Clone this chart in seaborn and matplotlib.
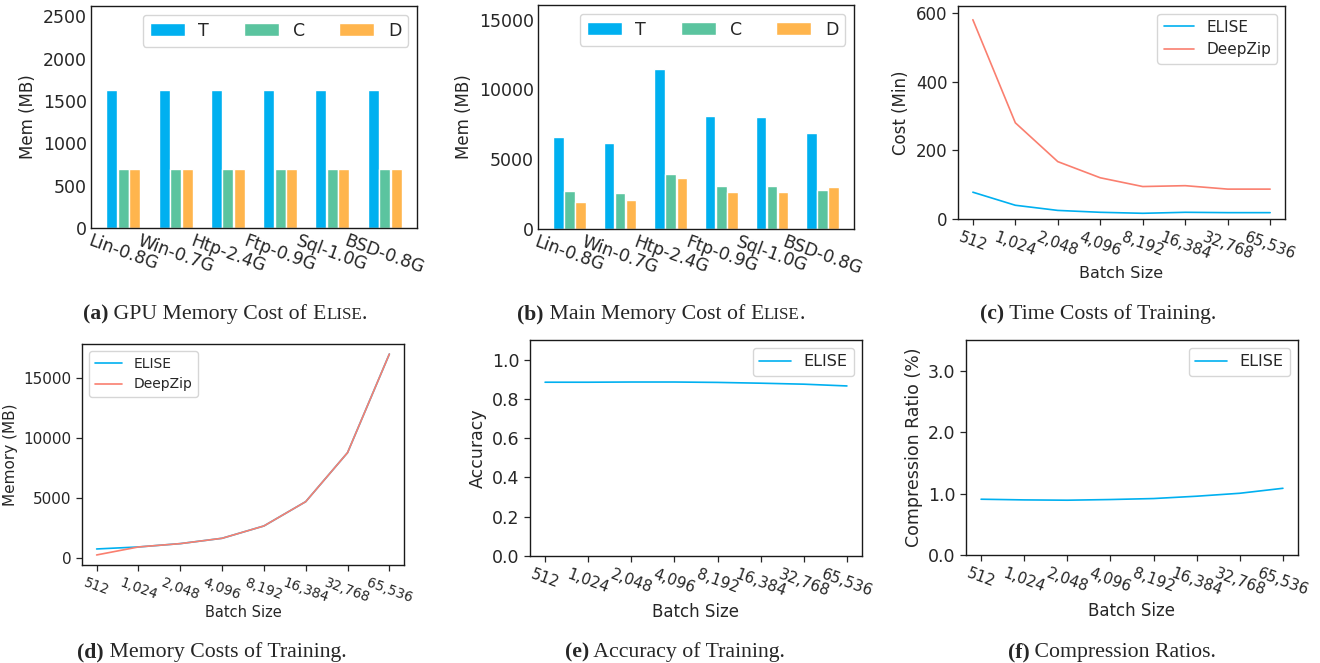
import numpy as np
import pandas as pd
import matplotlib
matplotlib.use("Agg")
import matplotlib.pyplot as plt
import seaborn as sns

# ---- data ----
datasets = ["Lin-0.8G", "Win-0.7G", "Htp-2.4G", "Ftp-0.9G", "Sql-1.0G", "BSD-0.8G"]
kinds = ["T", "C", "D"]
gpu_T = [1630, 1630, 1630, 1630, 1630, 1630]
gpu_C = [700, 700, 700, 700, 700, 700]
gpu_D = [700, 700, 700, 700, 700, 700]
main_T = [6590, 6160, 11480, 8100, 8030, 6880]
main_C = [2710, 2570, 3930, 3070, 3070, 2780]
main_D = [1940, 2060, 3640, 2640, 2640, 3000]

batch_labels = ["512", "1,024", "2,048", "4,096", "8,192", "16,384", "32,768", "65,536"]
time_elise = [78, 40, 25, 19.5, 16.6, 19.5, 18.5, 18.5]
time_deepzip = [580, 280, 167, 120, 94.5, 97, 87, 87]
mem_elise = [750, 918, 1197, 1642, 2672, 4703, 8794, 17032]
mem_deepzip = [250, 918, 1197, 1642, 2672, 4703, 8794, 17032]
acc_elise = [0.885, 0.885, 0.886, 0.886, 0.884, 0.880, 0.875, 0.866]
ratio_elise = [0.908, 0.897, 0.892, 0.903, 0.919, 0.957, 1.005, 1.086]

bar_colors = ["#00B0F0", "#5BC49F", "#FFB54D"]
blue = "#00B0F0"
salmon = "#FA7F6F"

sns.set_style("white")
plt.rcParams["font.family"] = ["DejaVu Sans"]
plt.rcParams["axes.edgecolor"] = "#1a1a1a"
plt.rcParams["axes.linewidth"] = 1.0

W, H = 1320, 663
fig = plt.figure(figsize=(W / 100, H / 100), dpi=100)


def add_axes(l, t, r, b):
    return fig.add_axes([l / W, 1 - b / H, (r - l) / W, (b - t) / H])


def bar_panel(ax, T, C, D, ylim, yticks):
    df = pd.DataFrame({
        "dataset": datasets * 3,
        "kind": sum([[k] * len(datasets) for k in kinds], []),
        "mem": T + C + D,
    })
    sns.barplot(data=df, x="dataset", y="mem", hue="kind", palette=bar_colors,
                width=0.66, gap=0.05, ax=ax, saturation=1)
    ax.set_xlim(-0.62, len(datasets) - 1 + 0.62)
    ax.set_ylim(*ylim)
    ax.set_yticks(yticks)
    ax.set_xlabel("")
    ax.set_ylabel("Mem (MB)", fontsize=12)
    ax.tick_params(axis="both", labelsize=12.5, length=0, pad=3)
    plt.setp(ax.get_xticklabels(), rotation=-20, ha="center")
    ax.legend(ncol=3, loc="upper right", fontsize=12.5, title=None)


def line_panel(ax, series, ylabel, fs=12, xfs=11, legend_loc="upper right",
               legend_fs=11.5, labelpad=3):
    pos = np.arange(len(batch_labels))
    for vals, label, color in series:
        sns.lineplot(x=pos, y=vals, color=color, label=label, linewidth=1.2, ax=ax)
    ax.set_xticks(pos)
    ax.set_xticklabels(batch_labels, rotation=-20, ha="center")
    ax.set_xlabel("Batch Size", fontsize=fs - 0.5, labelpad=labelpad)
    ax.set_ylabel(ylabel, fontsize=fs)
    ax.tick_params(axis="both", labelsize=fs, length=4, bottom=True, left=True,
                   width=0.9)
    ax.tick_params(axis="x", labelsize=xfs)
    ax.legend(loc=legend_loc, fontsize=legend_fs)


# (a)
ax_a = add_axes(91, 6, 417, 228)
bar_panel(ax_a, gpu_T, gpu_C, gpu_D, (0, 2620), [0, 500, 1000, 1500, 2000, 2500])

# (b)
ax_b = add_axes(538, 5, 854, 229)
bar_panel(ax_b, main_T, main_C, main_D, (0, 16050), [0, 5000, 10000, 15000])

# (c)
ax_c = add_axes(958, 6, 1285, 219)
line_panel(ax_c, [(time_elise, "ELISE", blue), (time_deepzip, "DeepZip", salmon)],
           "Cost (Min)", legend_fs=11)
ax_c.set_ylim(0, 620)
ax_c.set_yticks([0, 200, 400, 600])

# (d)
ax_d = add_axes(82, 344, 404, 565)
line_panel(ax_d, [(mem_elise, "ELISE", blue), (mem_deepzip, "DeepZip", salmon)],
           "Memory (MB)", fs=11, xfs=9.8, legend_loc="upper left", legend_fs=10,
           labelpad=0)
ax_d.set_yticks([0, 5000, 10000, 15000])

# (e)
ax_e = add_axes(530, 340, 862, 556)
line_panel(ax_e, [(acc_elise, "ELISE", blue)], "Accuracy", fs=12.5, xfs=11)
ax_e.set_ylim(0, 1.1)
ax_e.set_yticks([0.0, 0.2, 0.4, 0.6, 0.8, 1.0])
ax_e.set_yticklabels(["0.0", "0.2", "0.4", "0.6", "0.8", "1.0"])

# (f)
ax_f = add_axes(966, 340, 1298, 555)
line_panel(ax_f, [(ratio_elise, "ELISE", blue)], "Compression Ratio (%)", fs=12.5, xfs=11)
ax_f.set_ylim(0, 3.5)
ax_f.set_yticks([0.0, 1.0, 2.0, 3.0])
ax_f.set_yticklabels(["0.0", "1.0", "2.0", "3.0"])

# ---- captions (serif, with small-caps ELISE) ----
serif = ["Liberation Serif", "DejaVu Serif"]
CAP = 15.7
renderer = fig.canvas.get_renderer()


def caption(cx, cy, tag, text, smallcaps=False):
    parts = [(tag, "bold", CAP), (" " + text, "normal", CAP)]
    if smallcaps:
        parts += [("E", "normal", CAP), ("LISE", "normal", CAP * 0.78), (".", "normal", CAP)]
    else:
        parts[-1] = (parts[-1][0] + ".", "normal", CAP)
    widths = []
    for s, w, size in parts:
        t = fig.text(0, 0, s, fontsize=size, fontweight=w, family=serif)
        widths.append(t.get_window_extent(renderer=renderer).width)
        t.remove()
    x = cx - sum(widths) / 2
    for (s, w, size), wd in zip(parts, widths):
        fig.text(x / W, 1 - cy / H, s, fontsize=size, fontweight=w, family=serif,
                 va="baseline", ha="left")
        x += wd


caption(225, 319, "(a)", "GPU Memory Cost of ", smallcaps=True)
caption(661, 319, "(b)", "Main Memory Cost of ", smallcaps=True)
caption(1098, 319, "(c)", "Time Costs of Training")
caption(212, 657, "(d)", "Memory Costs of Training")
caption(675, 657, "(e)", "Accuracy of Training")
caption(1112, 657, "(f)", "Compression Ratios")

fig.savefig("out.png", dpi=100)
